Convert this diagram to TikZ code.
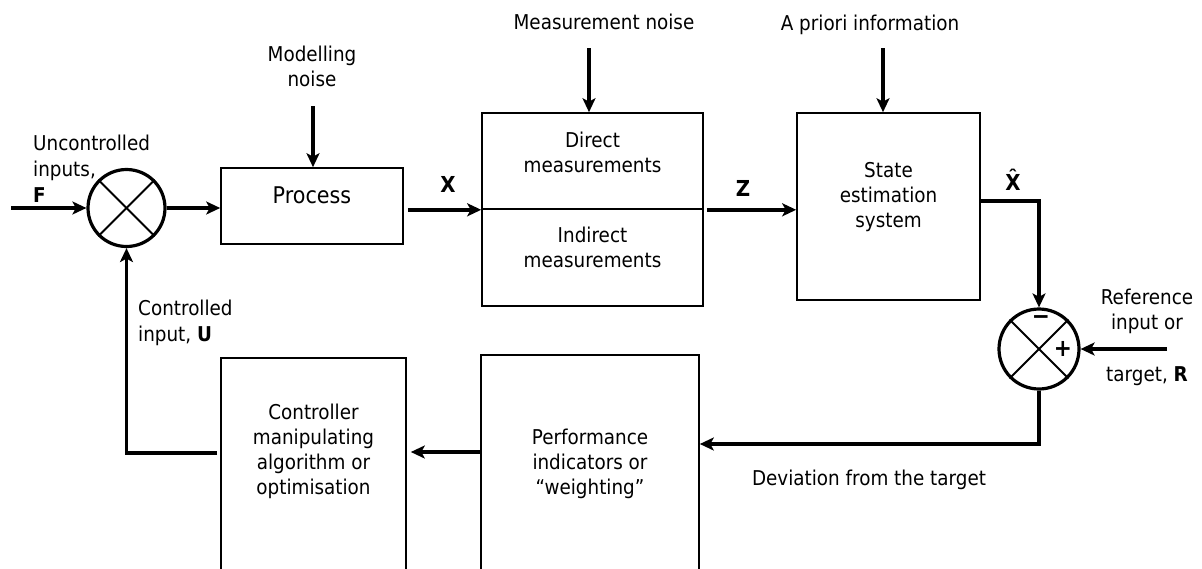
\documentclass[tikz,border=0pt]{standalone}
\usepackage{fontspec}
\setmainfont{DejaVu Sans}[FakeStretch=0.9]
\usetikzlibrary{arrows.meta}
\begin{document}
\begin{tikzpicture}[x=1pt,y=-1pt,
  box/.style={draw, line width=1.6pt, inner sep=0pt},
  arr/.style={line width=3.4pt, -{Stealth[length=14pt,width=13pt,inset=3.5pt]}},
  sumj/.style={draw, circle, line width=3.2pt, inner sep=0pt},
  lbl/.style={font=\fontsize{20.4}{25}\selectfont, align=center, inner sep=0pt},
  lbll/.style={font=\fontsize{20.4}{26}\selectfont, align=left, inner sep=0pt, anchor=west},
  sym/.style={font=\fontsize{22}{26}\selectfont\bfseries, inner sep=0pt, anchor=base},
  sign/.style={font=\fontsize{24}{26}\selectfont\bfseries, inner sep=0pt},
  xline/.style={line width=1.8pt}
]
\useasboundingbox (0,0) rectangle (1202,568);
\clip (0,0) rectangle (1202,568);

% blocks
\node[box, minimum width=182pt, minimum height=76pt] (proc) at (312,206) {};
\node[box, minimum width=221pt, minimum height=96pt] (direct) at (592.5,161) {};
\node[box, minimum width=221pt, minimum height=97pt] (indirect) at (592.5,257.5) {};
\node[box, minimum width=183pt, minimum height=187pt] (state) at (888.5,206.5) {};
\node[box, minimum width=185pt, minimum height=282pt] (ctrl) at (313.5,499) {};
\node[box, minimum width=218pt, minimum height=285pt] (perf) at (590,497.5) {};

% summing junctions
\node[sumj, minimum size=77pt] (sumL) at (126.5,208) {};
\node[sumj, minimum size=80pt] (sumR) at (1039,349) {};
\draw[xline] (sumL.north west) -- (sumL.south east);
\draw[xline] (sumL.north east) -- (sumL.south west);
\draw[xline] (sumR.north west) -- (sumR.south east);
\draw[xline] (sumR.north east) -- (sumR.south west);
\node[sign] (minus) at (1041,320) {\symbol{"2212}};
\node[sign] (plus) at (1063,349) {+};

% block texts
\node[lbl, font=\fontsize{23}{28}\selectfont] (proct) at (312,195) {Process};
\node[lbl] (directt) at (592.5,152) {Direct\\measurements};
\node[lbl] (indirectt) at (592.5,247) {Indirect\\measurements};
\node[lbl] (statet) at (888.5,197) {State\\estimation\\system};
\node[lbl] (ctrlt) at (313.5,451) {Controller\\manipulating\\algorithm or\\optimisation};
\node[lbl] (perft) at (590,464) {Performance\\indicators or\\\char"201C weighting\char"201D};

% free labels
\node[lbl] (mnoise) at (312,66) {Modelling\\noise};
\node[lbl] (measnoise) at (604,22) {Measurement noise};
\node[lbl] (apriori) at (870,25) {A priori information};
\node[lbll] (uncont) at (33,168.5) {Uncontrolled\\inputs,\\\textbf{F}};
\node[lbll] (cont) at (138,323) {Controlled\\input, \textbf{U}};
\node[lbl] (ref) at (1147,311.5) {Reference\\input or};
\node[lbl] (target) at (1147,376) {target, \textbf{R}};
\node[lbl] (dev) at (869,480) {Deviation from the target};
\node[sym] (xl) at (448,192) {X};
\node[sym] (zl) at (743,196) {Z};
\node[sym] (xhl) at (1013,190) {\^{X}};

% connectors
\coordinate (fin) at (11,208);
\coordinate (mn) at (313,106);
\coordinate (ms) at (589,48);
\coordinate (ap) at (883,48);
\coordinate (xh) at (1039,201);
\coordinate (rin) at (1167,349);
\coordinate (dv) at (1039,444);
\coordinate (pc) at (481,452);
\coordinate (cu) at (217,453);

\draw[arr] (fin) -- (sumL.west);
\draw[arr] (sumL.east) -- (sumL.east -| proc.west);
\draw[arr] (mn) -- (mn |- proc.north);
\draw[arr] ([xshift=4pt]proc.east |- direct.south west) -- (direct.south west);
\draw[arr] (ms) -- (ms |- direct.north);
\draw[arr] ([xshift=3pt]direct.south east) -- (direct.south east -| state.west);
\draw[arr] (ap) -- (ap |- state.north);
\draw[arr] (state.east |- xh) -- (xh) -- (sumR.north);
\draw[arr] (rin) -- (sumR.east);
\draw[arr] (sumR.south) -- (dv) -- (dv -| perf.east);
\draw[arr] (pc) -- ([xshift=4pt]pc -| ctrl.east);
\draw[arr] (cu) -- (cu -| sumL) -- (sumL.south);
\end{tikzpicture}
\end{document}
